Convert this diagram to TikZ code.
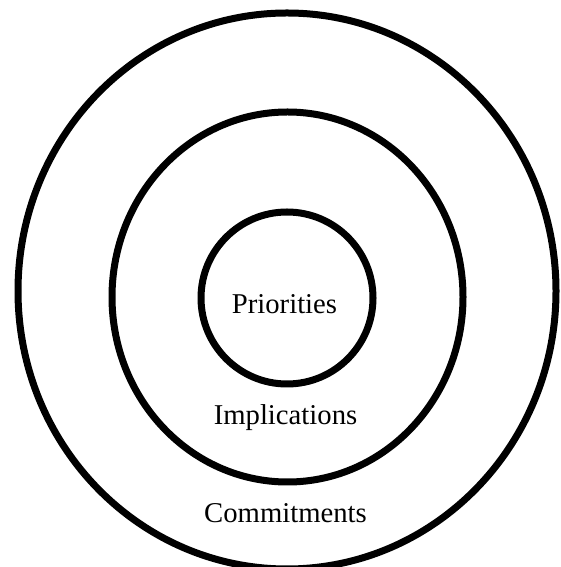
\documentclass[tikz,border=0pt]{standalone}
\usepackage{fontspec}
\setmainfont{Liberation Serif}
\begin{document}
\begin{tikzpicture}[x=1pt,y=1pt,
  ring/.style={line width=7pt,draw=black},
  lbl/.style={anchor=base,inner sep=0pt,font=\fontsize{28.7}{34}\selectfont}]
\useasboundingbox (0,0) rectangle (560,567);
\clip (0,0) rectangle (560,567);
\fill[white] (0,0) rectangle (560,567);
\draw[ring] (287,276) ellipse [x radius=269, y radius=278];
\draw[ring] (287.5,270) ellipse [x radius=175.5, y radius=185];
\draw[ring] (287,269) ellipse [x radius=86, y radius=86];
\node[lbl] (pri) at (284.5,253) {Priorities};
\node[lbl] (imp) at (285.5,142) {Implications};
\node[lbl] (com) at (285.5,44) {Commitments};
\end{tikzpicture}
\end{document}
